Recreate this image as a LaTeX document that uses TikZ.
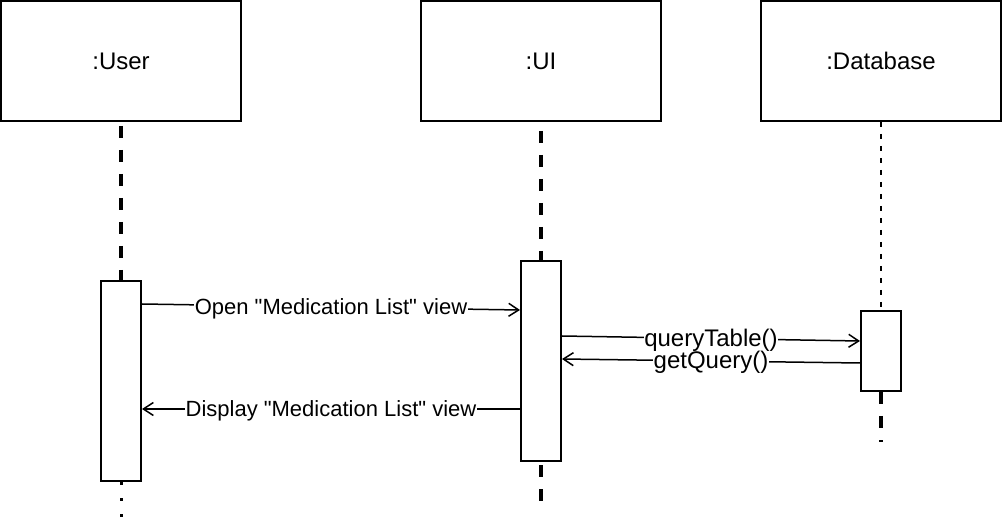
\documentclass[tikz,border=0pt]{standalone}
\usepackage{fontspec}
\setmainfont{Liberation Sans}[Ligatures=TeXOff]
\usetikzlibrary{arrows.meta}
\begin{document}
\begin{tikzpicture}[x=1pt,y=-1pt,
  objbox/.style={draw=black,line width=2pt,fill=white,minimum width=240pt,minimum height=120pt,inner sep=0pt,font=\fontsize{24}{28}\selectfont},
  actbox/.style={draw=black,line width=2pt,fill=white,minimum width=40pt,inner sep=0pt},
  lifethick/.style={line width=4pt,dash pattern=on 12pt off 12pt},
  lifethin/.style={line width=2.5pt,dash pattern=on 5pt off 7pt},
  lifedot/.style={line width=3pt,dash pattern=on 3pt off 13pt},
  msg/.style={line width=1.5pt,-{Straight Barb[length=10pt,width=13pt,line width=1.5pt]}},
  msglabel/.style={fill=white,inner sep=0.5pt,yshift=-1.5pt,font=\fontsize{22}{26}\selectfont},
  biglabel/.style={msglabel,font=\fontsize{24}{28}\selectfont}]
\useasboundingbox (0,0) rectangle (1004,526);
% objects
\node[objbox] (user) at (121,61) {:User};
\node[objbox] (ui) at (541,61) {:UI};
\node[objbox] (db) at (881,61) {:Database};
% activations
\node[actbox,minimum height=200pt] (ua) at (121,381) {};
\node[actbox,minimum height=200pt] (uia) at (541,361) {};
\node[actbox,minimum height=80pt] (da) at (881,351) {};
% end points of lifelines
\coordinate (uend) at (121,522);
\coordinate (uiend) at (541,502);
\coordinate (dend) at (881,442);
% lifelines
\draw[lifethick,dash phase=20pt] (user.south) -- (ua.north);
\draw[lifethick,dash phase=15pt] (ui.south) -- (uia.north);
\draw[lifethin] (db.south) -- (da.north);
\draw[lifedot] (ua.south) -- (uend);
\draw[lifethick,dash phase=-3pt] (uia.south) -- (uiend);
\draw[lifethick] (da.south) -- (dend);
% redraw activation boxes on top
\node[actbox,minimum height=200pt] at (ua) {};
\node[actbox,minimum height=200pt] at (uia) {};
\node[actbox,minimum height=80pt] at (da) {};
% messages
\draw[msg] ([yshift=-24pt]ua.north east) -- node[msglabel]{Open "Medication List" view} ([yshift=-50pt]uia.north west);
\draw[msg] ([yshift=-76pt]uia.north east) -- node[biglabel]{queryTable()} ([yshift=-31pt]da.north west);
\draw[msg] ([yshift=-53pt]da.north west) -- node[biglabel]{getQuery()} ([yshift=-99pt]uia.north east);
\draw[msg] ([yshift=-149pt]uia.north west) -- node[msglabel]{Display "Medication List" view} ([yshift=-129pt]ua.north east);
\end{tikzpicture}
\end{document}
